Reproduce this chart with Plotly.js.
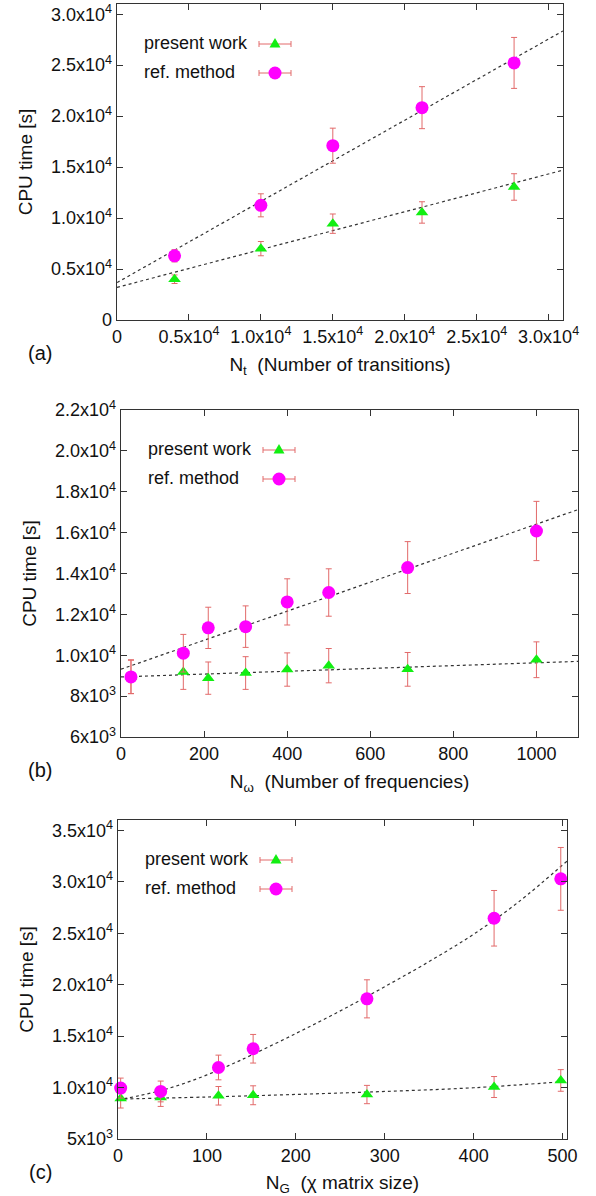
<!DOCTYPE html>
<html>
<head>
<meta charset="utf-8">
<script src="https://cdn.plot.ly/plotly-3.0.1.min.js"></script>
<style>
  html, body { margin: 0; padding: 0; background: #ffffff; }
  #chart { width: 596px; height: 1196px; }
</style>
</head>
<body>
<div id="chart"></div>
<script>
// ---------- Panel (a): CPU time vs number of transitions ----------
const aX          = [4000, 10000, 15000, 21200, 27600];
const aPresent    = [4000, 7000, 9450, 10550, 13050];
const aPresentErr = [420, 700, 950, 1050, 1300];
const aRef        = [6300, 11250, 17100, 20830, 25220];
const aRefErr     = [600, 1130, 1720, 2060, 2500];
const aFitX       = [0, 31000];
const aFitPresent = [3200, 14700];
const aFitRef     = [3670, 28360];
const aXTickVals  = [0, 5000, 10000, 15000, 20000, 25000, 30000];
const aXTickText  = ["0", "0.5x10<sup>4</sup>", "1.0x10<sup>4</sup>", "1.5x10<sup>4</sup>", "2.0x10<sup>4</sup>", "2.5x10<sup>4</sup>", "3.0x10<sup>4</sup>"];
const aYTickVals  = [0, 5000, 10000, 15000, 20000, 25000, 30000];
const aYTickText  = ["0", "0.5x10<sup>4</sup>", "1.0x10<sup>4</sup>", "1.5x10<sup>4</sup>", "2.0x10<sup>4</sup>", "2.5x10<sup>4</sup>", "3.0x10<sup>4</sup>"];

// ---------- Panel (b): CPU time vs number of frequencies ----------
const bX          = [24, 150, 210, 300, 400, 500, 690, 1000];
const bPresent    = [8950, 9180, 8880, 9130, 9300, 9490, 9310, 9780];
const bPresentErr = [830, 850, 790, 800, 815, 840, 825, 875];
const bRef        = [8940, 10100, 11340, 11400, 12610, 13070, 14290, 16080];
const bRefErr     = [815, 920, 1010, 1015, 1130, 1160, 1270, 1450];
const bFitX       = [0, 1100];
const bFitPresent = [8940, 9700];
const bFitRef     = [9315, 17125];
const bXTickVals  = [0, 200, 400, 600, 800, 1000];
const bXTickText  = ["0", "200", "400", "600", "800", "1000"];
const bYTickVals  = [6000, 8000, 10000, 12000, 14000, 16000, 18000, 20000, 22000];
const bYTickText  = ["6x10<sup>3</sup>", "8x10<sup>3</sup>", "1.0x10<sup>4</sup>", "1.2x10<sup>4</sup>", "1.4x10<sup>4</sup>", "1.6x10<sup>4</sup>", "1.8x10<sup>4</sup>", "2.0x10<sup>4</sup>", "2.2x10<sup>4</sup>"];

// ---------- Panel (c): CPU time vs chi matrix size ----------
const cX          = [3, 48, 113, 152, 280, 423, 498];
const cPresent    = [8940, 9040, 9200, 9250, 9320, 10050, 10690];
const cPresentErr = [930, 875, 900, 920, 890, 1020, 1050];
const cRef        = [9950, 9620, 11950, 13770, 18620, 26450, 30280];
const cRefErr     = [970, 1010, 1200, 1390, 1850, 2700, 3050];
const cFitPresentX = [0, 100, 200, 300, 400, 505];
const cFitPresent  = [8880, 9080, 9330, 9620, 9980, 10600];
const cFitRefX     = [0, 25, 50, 75, 100, 125, 150, 200, 250, 300, 350, 400, 450, 505];
const cFitRef      = [8800, 9230, 9750, 10420, 11230, 12150, 13150, 15250, 17450, 19800, 22250, 24900, 28000, 32000];
const cXTickVals  = [0, 100, 200, 300, 400, 500];
const cXTickText  = ["0", "100", "200", "300", "400", "500"];
const cYTickVals  = [5000, 10000, 15000, 20000, 25000, 30000, 35000];
const cYTickText  = ["5x10<sup>3</sup>", "1.0x10<sup>4</sup>", "1.5x10<sup>4</sup>", "2.0x10<sup>4</sup>", "2.5x10<sup>4</sup>", "3.0x10<sup>4</sup>", "3.5x10<sup>4</sup>"];

const seriesNames = ["present work", "ref. method"];
const panelLabels = ["(a)", "(b)", "(c)"];
const xTitles = ["N<sub>t</sub>\u00A0\u00A0(Number of transitions)",
                 "N<sub>\u03C9</sub>\u00A0\u00A0(Number of frequencies)",
                 "N<sub>G</sub>\u00A0\u00A0(\u03C7 matrix size)"];
const yTitle = "CPU time [s]";

// ---------- styling ----------
const W = 596, H = 1196;
const FONT = "Liberation Sans, Arial, Helvetica, sans-serif";
const GREEN = "#12ee12";
const MAGENTA = "#ff00ff";
const ERR = "#e26a6a";
const FIT = "#333333";
const AXIS = "#333333";

// panel geometry in pixels (left, right, top, bottom)
const boxes = [
  {l: 117, r: 563, t: 4,   b: 320},
  {l: 121, r: 578, t: 410, b: 737},
  {l: 118, r: 567, t: 820, b: 1139}
];
const ranges = [
  {x: [0, 31000], y: [0, 31000]},
  {x: [0, 1100],  y: [6000, 22000]},
  {x: [0, 505],   y: [5000, 36000]}
];
const ticks = [
  {xv: aXTickVals, xt: aXTickText, yv: aYTickVals, yt: aYTickText},
  {xv: bXTickVals, xt: bXTickText, yv: bYTickVals, yt: bYTickText},
  {xv: cXTickVals, xt: cXTickText, yv: cYTickVals, yt: cYTickText}
];

const px = x => x / W;
const py = y => 1 - y / H;

function errorSpec(arr) {
  return {type: "data", array: arr, visible: true, color: ERR, thickness: 1, width: 3};
}
function pointTraces(x, yP, eP, yR, eR, ax) {
  const xa = ax === 1 ? "x" : "x" + ax, ya = ax === 1 ? "y" : "y" + ax;
  return [
    {type: "scatter", mode: "markers", name: seriesNames[0], x: x, y: yP, xaxis: xa, yaxis: ya,
     error_y: errorSpec(eP), marker: {symbol: "triangle-up", size: 11, color: GREEN}, showlegend: false, cliponaxis: false},
    {type: "scatter", mode: "markers", name: seriesNames[1], x: x, y: yR, xaxis: xa, yaxis: ya,
     error_y: errorSpec(eR), marker: {symbol: "circle", size: 13, color: MAGENTA}, showlegend: false, cliponaxis: false}
  ];
}
function fitTrace(x, y, ax, shape) {
  const xa = ax === 1 ? "x" : "x" + ax, ya = ax === 1 ? "y" : "y" + ax;
  return {type: "scatter", mode: "lines", x: x, y: y, xaxis: xa, yaxis: ya, showlegend: false,
          hoverinfo: "skip", line: {color: FIT, width: 1.2, dash: "dot", shape: shape || "linear"}};
}

const data = [
  fitTrace(aFitX, aFitRef, 1), fitTrace(aFitX, aFitPresent, 1),
  ...pointTraces(aX, aPresent, aPresentErr, aRef, aRefErr, 1),
  fitTrace(bFitX, bFitRef, 2), fitTrace(bFitX, bFitPresent, 2),
  ...pointTraces(bX, bPresent, bPresentErr, bRef, bRefErr, 2),
  fitTrace(cFitRefX, cFitRef, 3, "spline"), fitTrace(cFitPresentX, cFitPresent, 3, "spline"),
  ...pointTraces(cX, cPresent, cPresentErr, cRef, cRefErr, 3)
];

const layout = {
  width: W, height: H,
  margin: {l: 0, r: 0, t: 0, b: 0},
  paper_bgcolor: "#ffffff", plot_bgcolor: "#ffffff",
  font: {family: FONT, size: 18, color: "#111111"},
  showlegend: false,
  annotations: [],
  shapes: []
};

boxes.forEach((b, i) => {
  const n = i === 0 ? "" : String(i + 1);
  const common = {
    showline: true, linecolor: AXIS, linewidth: 1.3, mirror: "ticks",
    ticks: "inside", ticklen: 6, tickcolor: AXIS, tickwidth: 1,
    showgrid: false, zeroline: false, tickmode: "array",
    tickfont: {family: FONT, size: 18, color: "#111111"}
  };
  layout["xaxis" + n] = Object.assign({}, common, {
    domain: [px(b.l), px(b.r)], anchor: "y" + n, range: ranges[i].x,
    tickvals: ticks[i].xv, ticktext: ticks[i].xt,
    title: {text: xTitles[i], font: {family: FONT, size: 19, color: "#111111"}, standoff: 11}
  });
  layout["yaxis" + n] = Object.assign({}, common, {
    domain: [py(b.b), py(b.t)], anchor: "x" + n, range: ranges[i].y,
    tickvals: ticks[i].yv, ticktext: ticks[i].yt,
    title: {text: yTitle, font: {family: FONT, size: 19, color: "#111111"}, standoff: 13}
  });
  // panel label
  layout.annotations.push({text: panelLabels[i], xref: "paper", yref: "paper",
    x: px(40), y: py(b.b + 33), xanchor: "center", yanchor: "middle", showarrow: false,
    font: {family: FONT, size: 20, color: "#111111"}});
  // manual gnuplot-style key: text left, sample right
  const rows = [b.t + 39, b.t + 68];
  const sx0 = b.l + 142, sx1 = b.l + 174, sm = b.l + 158;
  rows.forEach((yy, k) => {
    layout.annotations.push({text: seriesNames[k], xref: "paper", yref: "paper",
      x: px(b.l + 25), y: py(yy), xanchor: "left", yanchor: "middle", showarrow: false,
      font: {family: FONT, size: 18, color: "#111111"}});
    layout.shapes.push({type: "line", xref: "paper", yref: "paper", x0: px(sx0), x1: px(sx1), y0: py(yy + 1), y1: py(yy + 1), line: {color: ERR, width: 1}});
    layout.shapes.push({type: "line", xref: "paper", yref: "paper", x0: px(sx0), x1: px(sx0), y0: py(yy - 2), y1: py(yy + 4), line: {color: ERR, width: 1}});
    layout.shapes.push({type: "line", xref: "paper", yref: "paper", x0: px(sx1), x1: px(sx1), y0: py(yy - 2), y1: py(yy + 4), line: {color: ERR, width: 1}});
    if (k === 0) {
      layout.shapes.push({type: "path", xref: "paper", yref: "paper",
        path: "M " + px(sm - 5.5) + " " + py(yy + 4.5) + " L " + px(sm + 5.5) + " " + py(yy + 4.5) + " L " + px(sm) + " " + py(yy - 5) + " Z",
        fillcolor: GREEN, line: {width: 0}});
    } else {
      layout.shapes.push({type: "circle", xref: "paper", yref: "paper",
        x0: px(sm - 6.5), x1: px(sm + 6.5), y0: py(yy + 7.5), y1: py(yy - 5.5),
        fillcolor: MAGENTA, line: {width: 0}});
    }
  });
});

Plotly.newPlot("chart", data, layout, {staticPlot: true, displayModeBar: false});
</script>
</body>
</html>
